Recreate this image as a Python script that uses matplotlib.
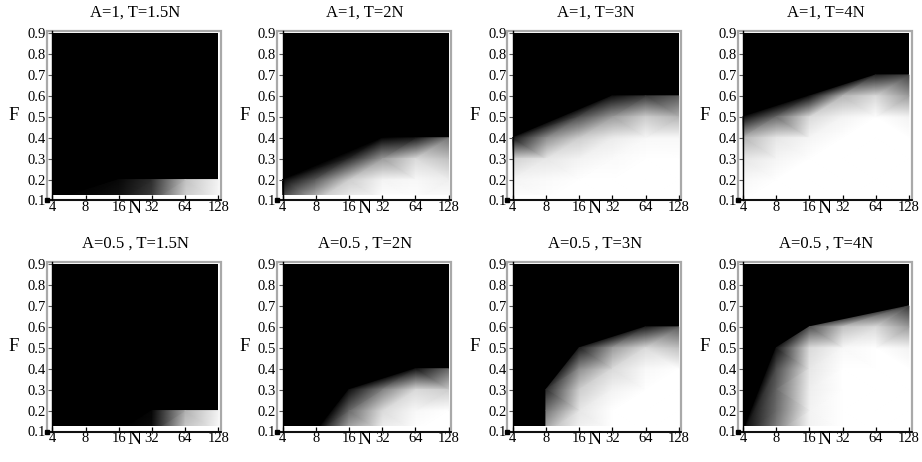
import numpy as np
import matplotlib
matplotlib.use("Agg")
import matplotlib.pyplot as plt
import matplotlib.tri as mtri
from matplotlib.patches import Rectangle

plt.rcParams['font.family'] = ['Liberation Serif', 'DejaVu Serif']

nan = np.nan

# ---------------- data ----------------
N_values = [4, 8, 16, 32, 64, 128]
F_values = [0.1, 0.2, 0.3, 0.4, 0.5, 0.6, 0.7, 0.8, 0.9]
N_labels = ["4", "8", "16", "32", "64", "128"]
F_labels = ["0.1", "0.2", "0.3", "0.4", "0.5", "0.6", "0.7", "0.8", "0.9"]

titles = ["A=1, T=1.5N", "A=1, T=2N", "A=1, T=3N", "A=1, T=4N",
          "A=0.5 , T=1.5N", "A=0.5 , T=2N", "A=0.5 , T=3N", "A=0.5 , T=4N"]

# rows: F = 0.1 ... 0.9 ; columns: N = 4 ... 128 ; nan = no data point
z_A1_T15 = [
    [0.0, 0.03, 0.08, 0.25, 0.82, 0.97],
    [nan, nan, 0.03, 0.18, 0.75, 0.95],
]
z_A1_T2 = [
    [0.35, 0.80, 0.95, 1.00, 1.00, 1.00],
    [0.00, 0.35, 0.80, 0.95, 0.97, 0.93],
    [nan, nan, 0.15, 0.60, 0.85, 0.75],
    [nan, nan, nan, 0.00, 0.08, 0.45],
]
z_A1_T3 = [
    [1.00, 1.00, 1.00, 1.00, 1.00, 1.00],
    [0.96, 0.98, 1.00, 1.00, 1.00, 1.00],
    [0.82, 0.90, 0.95, 0.98, 1.00, 1.00],
    [0.05, 0.55, 0.80, 0.92, 0.97, 0.97],
    [nan, nan, 0.30, 0.60, 0.80, 0.70],
    [nan, nan, nan, 0.05, 0.20, 0.35],
]
z_A1_T4 = [
    [1.00, 1.00, 1.00, 1.00, 1.00, 1.00],
    [0.97, 1.00, 1.00, 1.00, 1.00, 1.00],
    [0.90, 0.96, 1.00, 1.00, 1.00, 1.00],
    [0.70, 0.90, 0.96, 1.00, 1.00, 1.00],
    [0.03, 0.40, 0.85, 0.95, 1.00, 0.95],
    [nan, nan, 0.05, 0.70, 0.85, 0.60],
    [nan, nan, nan, nan, 0.12, 0.25],
]
z_A05_T15 = [
    [nan, nan, 0.00, 0.05, 0.80, 0.97],
    [nan, nan, nan, 0.02, 0.68, 0.95],
]
z_A05_T2 = [
    [nan, 0.00, 0.70, 0.95, 1.00, 1.00],
    [nan, nan, 0.40, 0.85, 0.97, 1.00],
    [nan, nan, 0.05, 0.50, 0.85, 0.80],
    [nan, nan, nan, nan, 0.05, 0.40],
]
z_A05_T3 = [
    [nan, 0.70, 0.95, 1.00, 1.00, 1.00],
    [nan, 0.45, 0.90, 1.00, 1.00, 1.00],
    [nan, 0.15, 0.80, 0.95, 1.00, 1.00],
    [nan, nan, 0.55, 0.85, 0.97, 1.00],
    [nan, nan, 0.10, 0.60, 0.85, 0.75],
    [nan, nan, nan, nan, 0.10, 0.35],
]
z_A05_T4 = [
    [0.00, 0.50, 0.95, 1.00, 1.00, 1.00],
    [nan, 0.42, 0.95, 1.00, 1.00, 1.00],
    [nan, 0.38, 0.93, 1.00, 1.00, 1.00],
    [nan, 0.30, 0.90, 1.00, 1.00, 1.00],
    [nan, 0.05, 0.85, 0.97, 1.00, 0.95],
    [nan, nan, 0.30, 0.75, 0.85, 0.60],
    [nan, nan, nan, nan, nan, 0.20],
]
panels = [z_A1_T15, z_A1_T2, z_A1_T3, z_A1_T4,
          z_A05_T15, z_A05_T2, z_A05_T3, z_A05_T4]

# ---------------- figure ----------------
W, H = 922, 462
fig = plt.figure(figsize=(W / 100, H / 100), dpi=100)

lx = np.log2(N_values)
x0, x1 = lx.min(), lx.max()
y0, y1 = min(F_values), max(F_values)

frame_col = '#a9a9a9'
px_x = 33.2            # pixels per octave
px_y = 167 / 0.8       # pixels per unit of F

for k, (title, Z) in enumerate(zip(titles, panels)):
    r, c = divmod(k, 4)
    left = 47 + 230.2 * c
    top = 30.5 + 231 * r
    ax = fig.add_axes([left / W, 1 - (top + 170) / H, 174 / W, 170 / H])
    ax.set_facecolor('white')

    # background (no data -> black)
    ax.add_patch(Rectangle((x0, y0), x1 - x0, y1 - y0, facecolor='black',
                           edgecolor='none', zorder=0.5))

    xs, ys, zs = [], [], []
    for i, row in enumerate(Z):
        for j, v in enumerate(row):
            if not np.isnan(v):
                xs.append(lx[j]); ys.append(F_values[i]); zs.append(v)
    xs = np.array(xs); ys = np.array(ys); zs = np.array(zs)
    # Delaunay in normalised coordinates
    xn = (xs - x0) / (x1 - x0)
    yn = (ys - y0) / (y1 - y0)
    tn = mtri.Triangulation(xn, yn)
    tri = mtri.Triangulation(xs, ys, triangles=tn.triangles)
    p = tn.triangles
    area = 0.5 * np.abs((xn[p[:, 1]] - xn[p[:, 0]]) * (yn[p[:, 2]] - yn[p[:, 0]])
                        - (xn[p[:, 2]] - xn[p[:, 0]]) * (yn[p[:, 1]] - yn[p[:, 0]]))
    tri.set_mask(area < 1e-9)
    ax.tripcolor(tri, zs, shading='gouraud', cmap='gray', vmin=0, vmax=1,
                 zorder=1)

    # white strip above the bottom axis line
    ax.add_patch(Rectangle((x0 - 1, y0), x1 - x0 + 2, 5 / px_y,
                           facecolor='white', edgecolor='none', zorder=2))

    ax.set_xlim(x0 - 5.3 / px_x, x1 + 2.7 / px_x)
    ax.set_ylim(y0, y1 + 2.5 / px_y)

    # ticks
    ax.set_xticks(lx)
    ax.set_xticklabels(N_labels)
    ax.set_yticks(F_values)
    ax.set_yticklabels(F_labels)
    ax.tick_params(axis='x', direction='in', length=3.4, width=0.9,
                   color='black', pad=0.5, labelsize=10.5)
    ax.tick_params(axis='y', direction='out', length=3, width=0.8,
                   color='#555555', pad=1.5, labelsize=10.5)
    for t in ax.xaxis.get_major_ticks():
        t.tick1line.set_zorder(6)

    # frame & axis lines
    for s in ['top', 'right']:
        ax.spines[s].set_visible(False)
    ax.spines['left'].set_position(('data', x0))
    ax.spines['left'].set_color('black')
    ax.spines['left'].set_linewidth(1.0)
    ax.spines['left'].set_zorder(4)
    ax.spines['bottom'].set_color('black')
    ax.spines['bottom'].set_linewidth(1.3)
    ax.spines['bottom'].set_zorder(5)
    ax.add_patch(Rectangle((0, 0), 1, 1, transform=ax.transAxes, fill=False,
                           edgecolor=frame_col, lw=1.6, clip_on=False, zorder=3))
    ax.plot([0], [0], 's', ms=2.6, color='black', transform=ax.transAxes,
            clip_on=False, zorder=7)
    ax.set_axisbelow(False)

    # labels
    ax.text(0.506, 1 + 18 / 170, title, transform=ax.transAxes,
            ha='center', va='center', fontsize=12)
    ax.text(-33 / 174, 0.5, "F", transform=ax.transAxes,
            ha='center', va='center', fontsize=13.5)
    ax.text(0.5, -0.045, "N", transform=ax.transAxes,
            ha='center', va='center', fontsize=14)

fig.savefig("out.png", dpi=100, facecolor='white')
